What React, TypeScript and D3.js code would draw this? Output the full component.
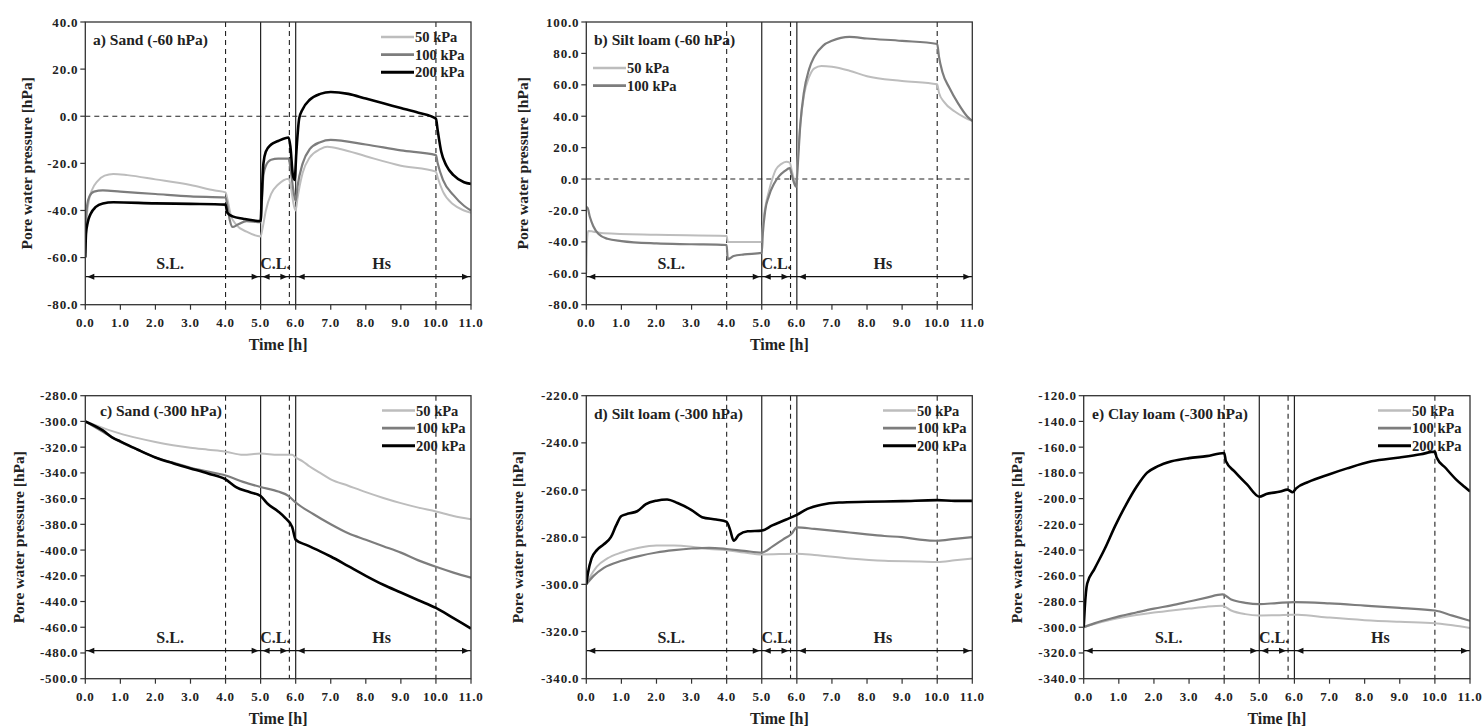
import React from "react";
import * as d3 from "d3";

type Pt = [number, number];

// ---------- data (time [h], pore water pressure [hPa]) ----------
const seriesNames = ["50 kPa", "100 kPa", "200 kPa"];
const seriesColors = ["#bdbdbd", "#7d7d7d", "#000000"];
const seriesWidths = [2, 2.2, 2.6];

const xTicks = [0, 1, 2, 3, 4, 5, 6, 7, 8, 9, 10, 11];
const dashedTimes = [4, 5.82, 10];
const solidTimes = [5, 6];
const phaseLabels = ["S.L.", "C.L.", "Hs"];
const phaseLabelTimes = [2.42, 5.42, 8.45];
const phaseBounds: Pt[] = [[0, 5], [5, 5.82], [6, 11]];

const aSand50: Pt[] = [[0,-58],[0.03,-45],[0.1,-36],[0.2,-31],[0.35,-27.5],[0.55,-25.2],[0.8,-24.5],[1.2,-25],[2,-26.8],[3,-29.2],[3.7,-31.5],[4.0,-32.3],[4.05,-35],[4.15,-42],[4.3,-46],[4.6,-49],[5.0,-51],[5.05,-48],[5.15,-40],[5.3,-33],[5.5,-29],[5.8,-26.5],[5.85,-29],[5.95,-38],[6.0,-40],[6.05,-35],[6.2,-24],[6.4,-17.5],[6.7,-14],[6.9,-13],[7.3,-14],[8.0,-17],[9.0,-21],[10.0,-23.5],[10.05,-26],[10.2,-32],[10.5,-37.5],[10.8,-40],[11,-41]];
const aSand100: Pt[] = [[0,-47],[0.05,-38],[0.12,-34],[0.25,-32],[0.5,-31.5],[1.0,-32],[2,-33],[3,-34],[4.0,-34.5],[4.05,-38],[4.12,-44],[4.2,-47],[4.35,-46],[4.6,-44.5],[5.0,-45],[5.03,-38],[5.08,-25],[5.15,-21],[5.3,-18.5],[5.5,-18],[5.8,-18],[5.85,-22],[5.95,-33],[6.0,-36],[6.05,-30],[6.2,-20],[6.4,-14],[6.7,-11],[7.0,-10],[8.0,-12],[9.0,-14.5],[10.0,-16.5],[10.05,-20],[10.2,-27],[10.5,-33.5],[10.8,-38],[11,-40]];
const aSand200: Pt[] = [[0,-60],[0.02,-50],[0.07,-45],[0.15,-41.5],[0.3,-38.5],[0.5,-37],[0.8,-36.5],[2,-37],[3,-37.2],[4.0,-37.5],[4.05,-41],[4.2,-42.5],[4.5,-43.5],[5.0,-44.5],[5.03,-35],[5.08,-20],[5.15,-15],[5.3,-12],[5.5,-10.5],[5.8,-9],[5.85,-13],[5.92,-25],[5.97,-27],[6.02,-15],[6.1,-1],[6.2,3],[6.4,7],[6.7,9.5],[7.0,10.3],[7.5,9.5],[8.0,7.5],[8.5,5.5],[9.0,3.5],[9.5,1.5],[10.0,-1],[10.05,-6],[10.15,-15],[10.3,-21],[10.5,-25],[10.8,-28],[11,-28.7]];

const bSilt50: Pt[] = [[0,-60],[0.02,-40],[0.05,-33],[0.2,-33.5],[0.5,-34.5],[2,-35.5],[4.0,-36.3],[4.03,-40],[4.5,-40],[5.0,-40],[5.03,-30],[5.1,-18],[5.2,-8],[5.3,0],[5.4,6],[5.55,9.5],[5.7,11],[5.8,10.5],[5.85,6],[5.93,-1],[5.98,-3],[6.03,15],[6.1,35],[6.2,53],[6.35,65],[6.5,70.5],[6.7,72],[7.0,71.5],[7.5,69],[8.0,65.5],[9.0,62.5],[10.0,60.3],[10.05,55],[10.2,49],[10.5,43],[10.8,39],[11,37]];
const bSilt100: Pt[] = [[0,-18],[0.03,-18],[0.1,-24],[0.2,-30],[0.35,-35],[0.6,-38],[1.0,-39.5],[2,-41],[3,-41.5],[4.0,-42],[4.03,-51],[4.2,-49],[4.5,-48],[5.0,-47],[5.03,-35],[5.1,-20],[5.2,-11],[5.35,-3],[5.5,2],[5.65,5],[5.8,7],[5.85,3],[5.93,-3],[5.98,-5],[6.03,10],[6.1,35],[6.2,55],[6.35,70],[6.5,78],[6.75,85],[7.0,88],[7.5,90.5],[8.0,89.5],[9.0,88],[10.0,86],[10.05,78],[10.15,68],[10.35,58],[10.6,48],[10.85,40],[11,37]];

const cSand50: Pt[] = [[0,-300],[0.5,-305],[1,-309.5],[1.5,-313],[2,-316],[2.5,-318.5],[3,-320.5],[3.5,-322],[4,-323.5],[4.5,-326],[5,-325],[5.5,-326],[5.9,-326],[6.0,-328],[6.2,-331],[6.4,-335],[6.7,-340],[7,-345],[7.5,-350],[8,-355],[8.5,-359.5],[9,-363.5],[9.5,-367],[10,-370],[10.5,-373.5],[11,-376]];
const cSand100: Pt[] = [[0,-300],[0.5,-308],[1,-316],[1.5,-322],[2,-328],[2.5,-332],[3,-336],[3.5,-339],[4,-342],[4.5,-347],[5,-351],[5.5,-354.5],[5.8,-358],[6,-363],[6.5,-372],[7,-380],[7.5,-387],[8,-392],[8.5,-397],[9,-402],[9.5,-408],[10,-413],[10.5,-417.5],[11,-421.5]];
const cSand200: Pt[] = [[0,-300],[0.5,-307],[0.8,-313],[1,-315.5],[1.5,-322],[2,-328],[2.5,-332.5],[3,-336.5],[3.5,-340.5],[4,-345],[4.3,-351],[4.7,-355],[5,-358],[5.2,-364],[5.5,-370],[5.7,-375],[5.9,-382],[6.0,-392],[6.3,-396],[6.7,-401],[7,-405],[7.5,-412.5],[8,-420],[8.5,-427],[9,-433],[9.5,-439],[10,-445],[10.5,-453],[11,-461]];

const dSilt50: Pt[] = [[0,-300],[0.1,-297],[0.3,-292.5],[0.6,-289],[1.0,-286.5],[1.5,-284.5],[2.0,-283.5],[2.5,-283.5],[3.0,-284],[3.5,-285],[4.0,-285.5],[4.5,-286.5],[5.0,-287.3],[6.0,-287],[6.5,-287.5],[7.5,-289],[8.5,-290],[9.5,-290.3],[10,-290.5],[10.5,-289.8],[11,-289]];
const dSilt100: Pt[] = [[0,-300],[0.2,-296.5],[0.5,-293],[1,-290],[1.5,-288],[2,-286.5],[2.5,-285.5],[3,-284.8],[3.5,-284.5],[4,-285],[4.5,-285.8],[5,-286.5],[5.3,-284],[5.6,-281],[5.85,-278.5],[6.0,-275.8],[6.5,-276.5],[7,-277.2],[7.5,-278],[8,-278.8],[8.5,-279.5],[9,-280],[9.5,-281],[10,-281.5],[10.5,-280.7],[11,-280]];
const dSilt200: Pt[] = [[0,-300],[0.05,-295],[0.15,-289],[0.3,-285.5],[0.5,-283],[0.7,-280],[0.85,-275],[1.0,-271],[1.2,-270],[1.45,-269],[1.7,-266],[2.0,-264.5],[2.3,-264],[2.6,-265.5],[3.0,-268.5],[3.3,-271.5],[3.7,-272.5],[4.0,-273.5],[4.1,-277],[4.2,-281.5],[4.35,-279],[4.6,-277.5],[5.0,-277.2],[5.3,-275],[5.7,-272.5],[6.0,-270.5],[6.3,-268],[6.7,-266.2],[7.2,-265.3],[8,-265],[9,-264.7],[10,-264.3],[10.5,-264.6],[11,-264.6]];

const eClay50: Pt[] = [[0,-300],[0.3,-297.5],[0.8,-294],[1.5,-290.5],[2,-288.5],[2.5,-287],[3,-285.5],[3.5,-284],[3.95,-283.3],[4.2,-287],[4.6,-289.8],[5,-290.8],[5.5,-290.7],[5.9,-290.2],[6.1,-290.3],[7,-292.5],[8,-294.5],[9,-295.8],[10,-296.8],[10.5,-298.5],[11,-300.5]];
const eClay100: Pt[] = [[0,-300],[0.3,-297],[0.8,-293],[1.5,-288.5],[2,-285.5],[2.5,-283],[3,-280],[3.5,-277],[3.95,-274.5],[4.2,-278.5],[4.6,-281],[5,-282],[5.5,-281.2],[6,-280.5],[7,-281.5],[8,-283.2],[9,-285],[10,-287],[10.5,-291],[11,-295]];
const eClay200: Pt[] = [[0,-300],[0.03,-285],[0.1,-266],[0.3,-255],[0.6,-239],[0.9,-221],[1.2,-205],[1.5,-191],[1.8,-180],[2.1,-175],[2.5,-171],[3,-168.5],[3.5,-167],[4,-164.5],[4.05,-171],[4.3,-179],[4.65,-189],[5,-198.5],[5.2,-196.5],[5.6,-194.5],[5.8,-193],[5.95,-195],[6.05,-192],[6.4,-187],[7,-181],[7.5,-176.5],[8.2,-171],[9,-168],[9.6,-165.5],[10,-163.5],[10.05,-168],[10.3,-176],[10.6,-185],[10.85,-191],[11,-194.5]];

const panelTitles = ["a) Sand (-60 hPa)", "b) Silt loam (-60 hPa)", "c) Sand (-300 hPa)", "d) Silt loam (-300 hPa)", "e) Clay loam (-300 hPa)"];
const yDomains: Pt[] = [[-80, 40], [-80, 100], [-500, -280], [-340, -220], [-340, -120]];
const panelSeries: Pt[][][] = [
  [aSand50, aSand100, aSand200],
  [bSilt50, bSilt100],
  [cSand50, cSand100, cSand200],
  [dSilt50, dSilt100, dSilt200],
  [eClay50, eClay100, eClay200],
];
const zeroLine = [true, true, false, false, false];

// ---------- layout ----------
const layout = [
  { l: 85.3, t: 22, w: 385.7, h: 282.7, yTitleX: 27, titleX: 93, titleY: 45, legX: 381, legY: 37 },
  { l: 586.3, t: 22, w: 386, h: 282.7, yTitleX: 523, titleX: 594, titleY: 45, legX: 593, legY: 68 },
  { l: 85.3, t: 395.7, w: 385.7, h: 283, yTitleX: 19, titleX: 100, titleY: 416, legX: 382, legY: 410.5 },
  { l: 586.3, t: 395.7, w: 386, h: 283, yTitleX: 518, titleX: 594, titleY: 419, legX: 883, legY: 410.5 },
  { l: 1083.7, t: 395.7, w: 386.3, h: 283, yTitleX: 1017, titleX: 1092, titleY: 419, legX: 1378, legY: 410.5 },
];

const FONT = '"Liberation Serif", "DejaVu Serif", serif';
const txt = { fontFamily: FONT, fontWeight: 700 as const };

function Panel({ idx }: { idx: number }) {
  const L = layout[idx];
  const x = d3.scaleLinear().domain([0, 11]).range([L.l, L.l + L.w]);
  const y = d3.scaleLinear().domain(yDomains[idx]).range([L.t + L.h, L.t]);
  const yTicks = d3.range(yDomains[idx][0], yDomains[idx][1] + 0.1, 20);
  const line = d3.line<Pt>().x((d) => x(d[0])).y((d) => y(d[1])).curve(d3.curveMonotoneX);
  const arrowY = L.t + L.h * 0.901;
  const bottom = L.t + L.h;
  const series = panelSeries[idx];
  const clipId = `clip${idx}`;
  const ah = (tip: number, dir: number) => {
    const len = 7, hw = 3;
    return `M${tip},${arrowY} L${tip - dir * len},${arrowY - hw} L${tip - dir * len},${arrowY + hw} Z`;
  };
  return (
    <g>
      <defs>
        <clipPath id={clipId}>
          <rect x={L.l} y={L.t} width={L.w} height={L.h} />
        </clipPath>
      </defs>
      {dashedTimes.map((t, i) => (
        <line key={"d" + i} x1={x(t)} x2={x(t)} y1={L.t} y2={bottom} stroke="#222" strokeWidth={1.1} strokeDasharray="5,4" />
      ))}
      {solidTimes.map((t, i) => (
        <line key={"s" + i} x1={x(t)} x2={x(t)} y1={L.t} y2={bottom} stroke="#222" strokeWidth={1.2} />
      ))}
      {zeroLine[idx] && (
        <line x1={L.l} x2={L.l + L.w} y1={y(0)} y2={y(0)} stroke="#222" strokeWidth={1.1} strokeDasharray="5,4" />
      )}
      <line x1={L.l} x2={L.l + L.w} y1={arrowY} y2={arrowY} stroke="#111" strokeWidth={1.2} />
      {phaseBounds.map((b, i) => (
        <g key={"a" + i}>
          <path d={ah(x(b[0]) + 2, -1)} fill="#111" />
          <path d={ah(x(b[1]) - 2, 1)} fill="#111" />
        </g>
      ))}
      {phaseLabels.map((s, i) => (
        <text key={"p" + i} x={x(phaseLabelTimes[i])} y={arrowY - 8} textAnchor="middle" style={{ ...txt, fontSize: 16 }} fill="#222">
          {s}
        </text>
      ))}
      <g clipPath={`url(#${clipId})`}>
        {series.map((s, i) => (
          <path key={"l" + i} d={line(s) || ""} fill="none" stroke={seriesColors[i]} strokeWidth={seriesWidths[i]} strokeLinejoin="round" />
        ))}
      </g>
      <rect x={L.l} y={L.t} width={L.w} height={L.h} fill="none" stroke="#333" strokeWidth={1.3} />
      {yTicks.map((v) => (
        <g key={"y" + v}>
          <line x1={L.l - 5} x2={L.l} y1={y(v)} y2={y(v)} stroke="#333" strokeWidth={1.2} />
          <text x={L.l - 7} y={y(v) + 4.5} textAnchor="end" style={{ ...txt, fontSize: 13, letterSpacing: 0.8 }} fill="#222">
            {v.toFixed(1)}
          </text>
        </g>
      ))}
      {xTicks.map((v) => (
        <g key={"x" + v}>
          <line x1={x(v)} x2={x(v)} y1={bottom} y2={bottom + 5} stroke="#333" strokeWidth={1.2} />
          <text x={x(v)} y={bottom + 22} textAnchor="middle" style={{ ...txt, fontSize: 13, letterSpacing: 0.8 }} fill="#222">
            {v.toFixed(1)}
          </text>
        </g>
      ))}
      <text x={L.l + L.w / 2} y={bottom + 45} textAnchor="middle" style={{ ...txt, fontSize: 16 }} fill="#222">
        Time [h]
      </text>
      <text transform={`translate(${L.yTitleX + 5},${L.t + L.h / 2}) rotate(-90)`} textAnchor="middle" style={{ ...txt, fontSize: 15.5 }} fill="#222">
        Pore water pressure [hPa]
      </text>
      <text x={L.titleX} y={L.titleY} style={{ ...txt, fontSize: 15.5 }} fill="#222">
        {panelTitles[idx]}
      </text>
      {series.map((_, i) => (
        <g key={"g" + i}>
          <line x1={L.legX} x2={L.legX + 33} y1={L.legY + i * 17.6} y2={L.legY + i * 17.6} stroke={seriesColors[i]} strokeWidth={seriesWidths[i] + 0.4} />
          <text x={L.legX + 34} y={L.legY + i * 17.6 + 5} style={{ ...txt, fontSize: 14.5 }} fill="#222">
            {seriesNames[i]}
          </text>
        </g>
      ))}
    </g>
  );
}

export default function App() {
  return (
    <svg width={1483} height={727} style={{ position: "absolute", left: 0, top: 0, background: "#fff" }}>
      <rect x={0} y={0} width={1483} height={727} fill="#fff" />
      {panelTitles.map((_, i) => (
        <Panel key={i} idx={i} />
      ))}
    </svg>
  );
}
